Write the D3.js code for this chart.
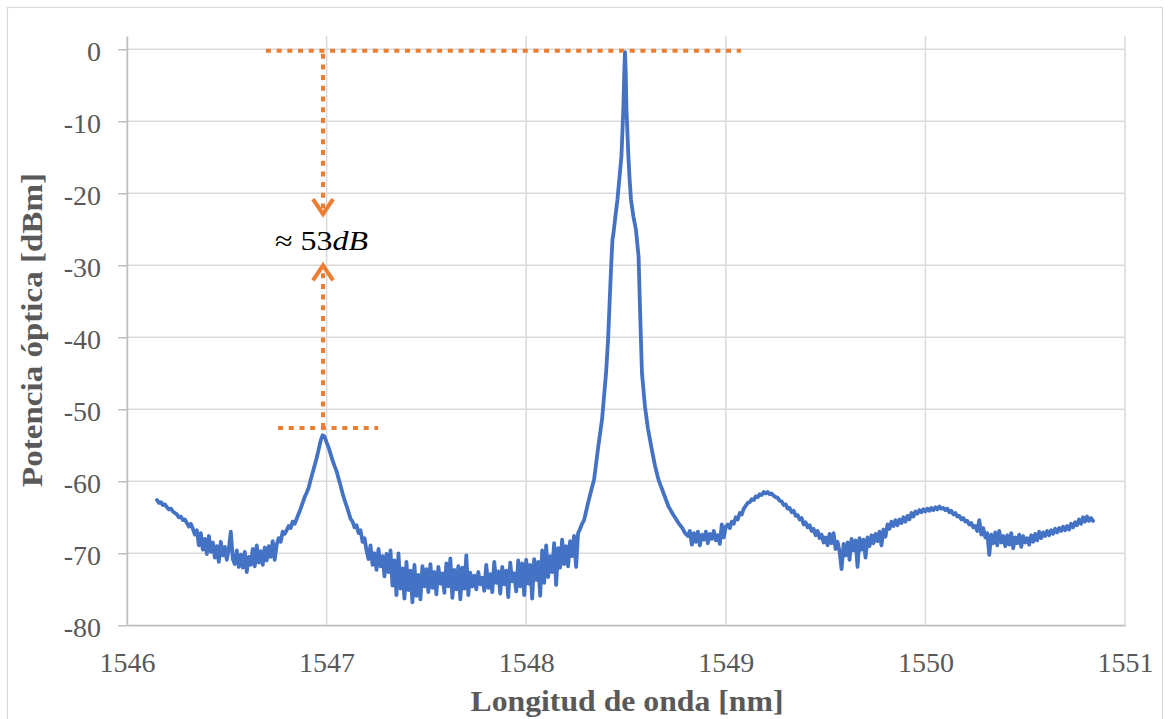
<!DOCTYPE html>
<html><head><meta charset="utf-8">
<script src="https://cdn.jsdelivr.net/npm/d3@7"></script>
<style>body{margin:0;background:#fff}svg{display:block}</style>
</head><body>
<svg id="chart" width="1170" height="719"></svg>
<script>
// ---------- data ----------
const wavelength = [
1546.15,1546.16,1546.17,1546.18,1546.19,1546.20,1546.21,1546.22,1546.23,1546.24,
1546.25,1546.26,1546.27,1546.28,1546.29,1546.30,1546.31,1546.32,1546.33,1546.34,
1546.35,1546.36,1546.37,1546.38,1546.39,1546.40,1546.41,1546.42,1546.43,1546.44,
1546.45,1546.46,1546.47,1546.48,1546.49,1546.50,1546.51,1546.52,1546.53,1546.54,
1546.55,1546.56,1546.57,1546.58,1546.59,1546.60,1546.61,1546.62,1546.63,1546.64,
1546.65,1546.66,1546.67,1546.68,1546.69,1546.70,1546.71,1546.72,1546.73,1546.74,
1546.75,1546.76,1546.77,1546.78,1546.79,1546.80,1546.81,1546.82,1546.83,1546.84,
1546.85,1546.86,1546.87,1546.88,1546.89,1546.90,1546.91,1546.92,1546.93,1546.94,
1546.95,1546.96,1546.97,1546.98,1546.99,1547.00,1547.01,1547.02,1547.03,1547.04,
1547.05,1547.06,1547.07,1547.08,1547.09,1547.10,1547.11,1547.12,1547.13,1547.14,
1547.15,1547.16,1547.17,1547.18,1547.19,1547.20,1547.21,1547.22,1547.23,1547.24,
1547.25,1547.26,1547.27,1547.28,1547.29,1547.30,1547.31,1547.32,1547.33,1547.34,
1547.35,1547.36,1547.37,1547.38,1547.39,1547.40,1547.41,1547.42,1547.43,1547.44,
1547.45,1547.46,1547.47,1547.48,1547.49,1547.50,1547.51,1547.52,1547.53,1547.54,
1547.55,1547.56,1547.57,1547.58,1547.59,1547.60,1547.61,1547.62,1547.63,1547.64,
1547.65,1547.66,1547.67,1547.68,1547.69,1547.70,1547.71,1547.72,1547.73,1547.74,
1547.75,1547.76,1547.77,1547.78,1547.79,1547.80,1547.81,1547.82,1547.83,1547.84,
1547.85,1547.86,1547.87,1547.88,1547.89,1547.90,1547.91,1547.92,1547.93,1547.94,
1547.95,1547.96,1547.97,1547.98,1547.99,1548.00,1548.01,1548.02,1548.03,1548.04,
1548.05,1548.06,1548.07,1548.08,1548.09,1548.10,1548.11,1548.12,1548.13,1548.14,
1548.15,1548.16,1548.17,1548.18,1548.19,1548.20,1548.21,1548.22,1548.23,1548.24,
1548.25,1548.26,1548.27,1548.28,1548.29,1548.30,1548.31,1548.32,1548.33,1548.34,
1548.35,1548.36,1548.37,1548.38,1548.39,1548.40,1548.41,1548.417,1548.425,1548.432,
1548.437,1548.447,1548.457,1548.467,1548.477,1548.482,1548.487,1548.491,1548.495,1548.499,
1548.502,1548.507,1548.512,1548.518,1548.525,1548.537,1548.550,1548.556,1548.563,1548.570,
1548.575,1548.580,1548.595,1548.61,1548.63,1548.645,1548.663,1548.69,1548.713,1548.74,
1548.763,1548.78,1548.796,1548.81,1548.82,1548.83,1548.84,1548.85,1548.86,1548.87,
1548.88,1548.89,1548.90,1548.91,1548.92,1548.93,1548.94,1548.95,1548.96,1548.97,
1548.98,1548.99,1549.00,1549.01,1549.02,1549.03,1549.04,1549.05,1549.06,1549.07,
1549.08,1549.09,1549.10,1549.11,1549.12,1549.13,1549.14,1549.15,1549.16,1549.17,
1549.18,1549.19,1549.20,1549.21,1549.22,1549.23,1549.24,1549.25,1549.26,1549.27,
1549.28,1549.29,1549.30,1549.31,1549.32,1549.33,1549.34,1549.35,1549.36,1549.37,
1549.38,1549.39,1549.40,1549.41,1549.42,1549.43,1549.44,1549.45,1549.46,1549.47,
1549.48,1549.49,1549.50,1549.51,1549.52,1549.53,1549.54,1549.55,1549.56,1549.57,
1549.58,1549.59,1549.60,1549.61,1549.62,1549.63,1549.64,1549.65,1549.66,1549.67,
1549.68,1549.69,1549.70,1549.71,1549.72,1549.73,1549.74,1549.75,1549.76,1549.77,
1549.78,1549.79,1549.80,1549.81,1549.82,1549.83,1549.84,1549.85,1549.86,1549.87,
1549.88,1549.89,1549.90,1549.91,1549.92,1549.93,1549.94,1549.95,1549.96,1549.97,
1549.98,1549.99,1550.00,1550.01,1550.02,1550.03,1550.04,1550.05,1550.06,1550.07,
1550.08,1550.09,1550.10,1550.11,1550.12,1550.13,1550.14,1550.15,1550.16,1550.17,
1550.18,1550.19,1550.20,1550.21,1550.22,1550.23,1550.24,1550.25,1550.26,1550.27,
1550.28,1550.29,1550.30,1550.31,1550.32,1550.33,1550.34,1550.35,1550.36,1550.37,
1550.38,1550.39,1550.40,1550.41,1550.42,1550.43,1550.44,1550.45,1550.46,1550.47,
1550.48,1550.49,1550.50,1550.51,1550.52,1550.53,1550.54,1550.55,1550.56,1550.57,
1550.58,1550.59,1550.60,1550.61,1550.62,1550.63,1550.64,1550.65,1550.66,1550.67,
1550.68,1550.69,1550.70,1550.71,1550.72,1550.73,1550.74,1550.75,1550.76,1550.77,
1550.78,1550.79,1550.80,1550.81,1550.82,1550.83,1550.84
];
const power = [
-62.6,-63.0,-62.9,-63.3,-63.2,-63.6,-63.9,-63.8,-64.2,-64.4,
-64.6,-65.0,-64.9,-65.4,-65.3,-65.8,-66.3,-65.9,-66.6,-67.4,
-66.8,-68.9,-67.2,-69.5,-68.0,-70.1,-67.6,-69.8,-68.5,-70.6,
-69.0,-71.2,-68.4,-70.3,-69.1,-70.9,-69.4,-67.0,-70.8,-71.5,
-69.6,-71.9,-70.2,-72.0,-69.8,-72.6,-70.5,-71.6,-69.4,-71.8,
-68.9,-71.3,-69.7,-71.6,-69.2,-71.0,-69.0,-70.5,-68.3,-70.9,
-68.8,-67.9,-68.4,-67.0,-67.3,-66.8,-66.2,-66.5,-65.6,-65.9,
-65.2,-64.5,-63.8,-63.0,-62.2,-61.6,-60.9,-59.8,-58.8,-57.8,
-56.8,-55.6,-54.4,-53.6,-53.8,-54.6,-55.3,-56.2,-57.1,-57.9,
-58.6,-59.6,-60.6,-61.7,-62.6,-63.4,-64.3,-65.2,-65.6,-66.4,
-66.1,-67.2,-66.8,-68.4,-67.9,-69.6,-70.8,-68.9,-71.6,-70.0,
-72.3,-69.4,-71.8,-70.4,-73.2,-70.1,-72.6,-69.6,-74.5,-71.0,
-75.8,-70.0,-74.9,-72.1,-76.3,-71.2,-75.1,-72.4,-76.8,-71.6,
-75.9,-73.0,-76.4,-71.8,-74.6,-72.2,-75.4,-71.5,-74.8,-72.6,
-75.7,-71.9,-74.2,-72.8,-75.5,-71.4,-74.6,-70.7,-76.2,-72.3,
-75.0,-71.8,-76.4,-72.0,-74.9,-70.3,-75.8,-72.7,-74.6,-73.1,
-75.0,-72.6,-74.3,-73.4,-75.2,-71.6,-74.8,-72.9,-75.4,-71.2,
-74.1,-72.5,-75.6,-71.9,-74.3,-72.4,-76.1,-71.3,-73.9,-72.8,
-75.3,-71.0,-74.6,-71.4,-75.8,-70.9,-74.2,-71.6,-76.3,-70.8,
-73.7,-71.2,-75.9,-69.6,-74.1,-68.9,-73.3,-70.4,-72.6,-68.6,
-74.4,-69.3,-72.0,-68.1,-71.5,-69.0,-71.8,-68.3,-70.4,-67.6,
-71.9,-67.2,-66.6,-65.9,-65.4,-64.2,-63.0,-61.9,-60.8,-59.8,
-57.6,-55.4,-53.4,-51.4,-48.2,-45.0,-40.4,-35.8,-30.5,-26.5,
-25.6,-23.2,-20.9,-17.9,-14.9,-11.5,-8.0,-3.5,-0.4,-3.5,
-8.0,-11.5,-14.9,-18.0,-20.9,-23.2,-25.1,-26.8,-28.8,-35.8,
-40.5,-45.0,-49.6,-52.7,-55.7,-57.8,-59.8,-61.8,-63.5,-64.8,
-65.8,-66.4,-67.2,-67.6,-66.9,-68.8,-67.2,-68.4,-67.0,-68.9,
-67.4,-68.1,-67.0,-68.6,-67.3,-68.0,-66.9,-68.2,-67.5,-68.7,
-66.0,-67.8,-66.3,-66.0,-66.5,-65.6,-65.9,-65.0,-65.3,-64.4,
-64.6,-63.8,-63.4,-63.0,-62.9,-62.5,-62.6,-62.1,-62.2,-61.8,
-61.9,-61.5,-61.7,-61.5,-61.8,-61.7,-62.0,-62.2,-62.3,-62.7,
-62.8,-63.3,-63.2,-63.8,-63.7,-64.3,-64.1,-64.8,-64.7,-65.3,
-65.1,-66.0,-65.7,-66.4,-66.1,-66.9,-66.6,-67.5,-66.9,-67.9,
-67.4,-68.5,-67.8,-68.9,-67.3,-68.6,-67.2,-69.4,-68.4,-69.8,
-72.2,-68.7,-70.3,-68.5,-70.9,-68.0,-69.6,-68.2,-71.9,-67.9,
-69.5,-68.1,-70.6,-67.8,-69.0,-67.5,-68.6,-67.3,-68.3,-67.0,
-68.9,-66.7,-67.7,-66.0,-66.6,-65.6,-66.2,-65.4,-66.1,-65.3,
-65.8,-65.0,-65.6,-64.8,-65.3,-64.4,-64.9,-64.2,-64.5,-64.0,
-64.3,-63.9,-64.2,-63.8,-64.1,-63.7,-64.0,-63.6,-63.9,-63.5,
-63.8,-63.7,-64.0,-63.8,-64.3,-64.1,-64.6,-64.4,-64.9,-64.8,
-65.3,-65.1,-65.6,-65.5,-66.0,-65.8,-66.4,-66.2,-66.9,-65.4,
-67.4,-66.5,-67.8,-67.2,-70.2,-67.4,-68.6,-67.1,-68.9,-66.9,
-68.5,-67.6,-69.0,-67.5,-68.8,-67.2,-69.3,-67.8,-68.6,-67.4,
-69.1,-67.6,-68.5,-67.9,-68.8,-67.5,-68.4,-67.3,-68.2,-67.0,
-67.9,-67.1,-67.6,-66.9,-67.5,-66.8,-67.3,-66.6,-67.1,-66.5,
-66.9,-66.3,-66.8,-66.2,-66.7,-65.9,-66.4,-65.7,-66.1,-65.3,
-65.9,-65.0,-65.6,-64.9,-65.5,-65.1,-65.5
];
const xTicks = [1546, 1547, 1548, 1549, 1550, 1551];
const yTicks = [-80, -70, -60, -50, -40, -30, -20, -10, 0];
const xTitle = "Longitud de onda [nm]";
const yTitle = "Potencia óptica [dBm]";
const annotationMain = "≈ 53";
const annotationUnit = "dB";
// annotation reference levels (dBm) and spans (nm)
const mainPeakLevel = -0.2;
const sidePeakLevel = -52.6;
const mainLineSpan = [1546.696, 1549.076];
const sideLineSpan = [1546.757, 1547.258];
const arrowWavelength = 1546.982;
const arrowDownTip = -22.9;
const arrowUpTip = -30.0;
const annotationLevel = -27.9;

// ---------- drawing ----------
const svg = d3.select("#chart");
const x = d3.scaleLinear().domain([1546, 1551]).range([127, 1125]);
const y = d3.scaleLinear().domain([-80, 1.8]).range([625.3, 36.3]);
const grey = "#595959", gridC = "#d9d9d9", serif = "'Liberation Serif','Times New Roman',serif";

svg.append("rect").attr("x", 7.5).attr("y", 7.5).attr("width", 1155).attr("height", 740)
  .attr("fill", "#fff").attr("stroke", gridC).attr("stroke-width", 1.2);

// gridlines
svg.append("g").selectAll("line").data(yTicks).join("line")
  .attr("x1", x(1546)).attr("x2", x(1551)).attr("y1", d => y(d)).attr("y2", d => y(d))
  .attr("stroke", gridC).attr("stroke-width", 1.5);
svg.append("g").selectAll("line").data(xTicks).join("line")
  .attr("x1", d => x(d)).attr("x2", d => x(d)).attr("y1", y.range()[1]).attr("y2", y.range()[0])
  .attr("stroke", gridC).attr("stroke-width", 1.5);

// axes
const gy = svg.append("g").attr("transform", `translate(${x(1546)},0)`)
  .call(d3.axisLeft(y).tickValues(yTicks).tickFormat(d => String(d))
    .tickSizeInner(9).tickSizeOuter(0).tickPadding(17));
gy.selectAll("path,line").attr("stroke", "#bfbfbf").attr("stroke-width", 1.5);
gy.selectAll("text").attr("font-family", serif).attr("font-size", 28).attr("fill", grey).attr("dy", "0.4em");

const gx = svg.append("g").attr("transform", `translate(0,${y(-80)})`)
  .call(d3.axisBottom(x).tickValues(xTicks).tickFormat(d => String(d))
    .tickSizeInner(0).tickSizeOuter(0).tickPadding(27));
gx.selectAll("path").attr("stroke", "#bfbfbf").attr("stroke-width", 1.5);
gx.selectAll("text").attr("font-family", serif).attr("font-size", 28).attr("fill", grey);

// axis titles
svg.append("text").attr("x", 627).attr("y", 711).attr("text-anchor", "middle")
  .attr("font-family", serif).attr("font-weight", "bold").attr("font-size", 29).attr("fill", grey)
  .attr("textLength", 313).attr("lengthAdjust", "spacingAndGlyphs").text(xTitle);
svg.append("text").attr("transform", "translate(42,330) rotate(-90)").attr("text-anchor", "middle")
  .attr("font-family", serif).attr("font-weight", "bold").attr("font-size", 29).attr("fill", grey)
  .attr("textLength", 314).attr("lengthAdjust", "spacingAndGlyphs").text(yTitle);

// spectrum
const pts = wavelength.map((w, i) => [w, power[i]]);
svg.append("path").datum(pts)
  .attr("d", d3.line().x(d => x(d[0])).y(d => y(d[1])))
  .attr("fill", "none").attr("stroke", "#4472c4").attr("stroke-width", 3.8)
  .attr("stroke-linejoin", "round").attr("stroke-linecap", "round");

// orange annotations
const orange = "#ed7d31";
const ann = svg.append("g").attr("stroke", orange).attr("fill", "none");
const dotted = sel => sel.attr("stroke-width", 4).attr("stroke-dasharray", "5 5.7");
dotted(ann.append("line").attr("x1", x(mainLineSpan[0])).attr("x2", x(mainLineSpan[1]))
  .attr("y1", y(mainPeakLevel)).attr("y2", y(mainPeakLevel)));
dotted(ann.append("line").attr("x1", x(sideLineSpan[0])).attr("x2", x(sideLineSpan[1]))
  .attr("y1", y(sidePeakLevel)).attr("y2", y(sidePeakLevel)));
dotted(ann.append("line").attr("x1", x(arrowWavelength)).attr("x2", x(arrowWavelength))
  .attr("y1", y(mainPeakLevel) + 3).attr("y2", y(arrowDownTip) - 4));
dotted(ann.append("line").attr("x1", x(arrowWavelength)).attr("x2", x(arrowWavelength))
  .attr("y1", y(sidePeakLevel)).attr("y2", y(arrowUpTip) + 4));
const ax = x(arrowWavelength);
ann.append("path").attr("d", `M${ax - 10},${y(arrowDownTip) - 15} L${ax},${y(arrowDownTip)} L${ax + 10},${y(arrowDownTip) - 15}`)
  .attr("stroke-width", 4).attr("stroke-linejoin", "miter");
ann.append("path").attr("d", `M${ax - 10},${y(arrowUpTip) + 15} L${ax},${y(arrowUpTip)} L${ax + 10},${y(arrowUpTip) + 15}`)
  .attr("stroke-width", 4).attr("stroke-linejoin", "miter");

const t = svg.append("text").attr("x", 321.5).attr("y", y(annotationLevel)).attr("text-anchor", "middle")
  .attr("font-family", serif).attr("font-size", 27).attr("fill", "#000")
  .attr("textLength", 93).attr("lengthAdjust", "spacingAndGlyphs");
t.append("tspan").text(annotationMain);
t.append("tspan").attr("font-style", "italic").text(annotationUnit);
</script>
</body></html>
